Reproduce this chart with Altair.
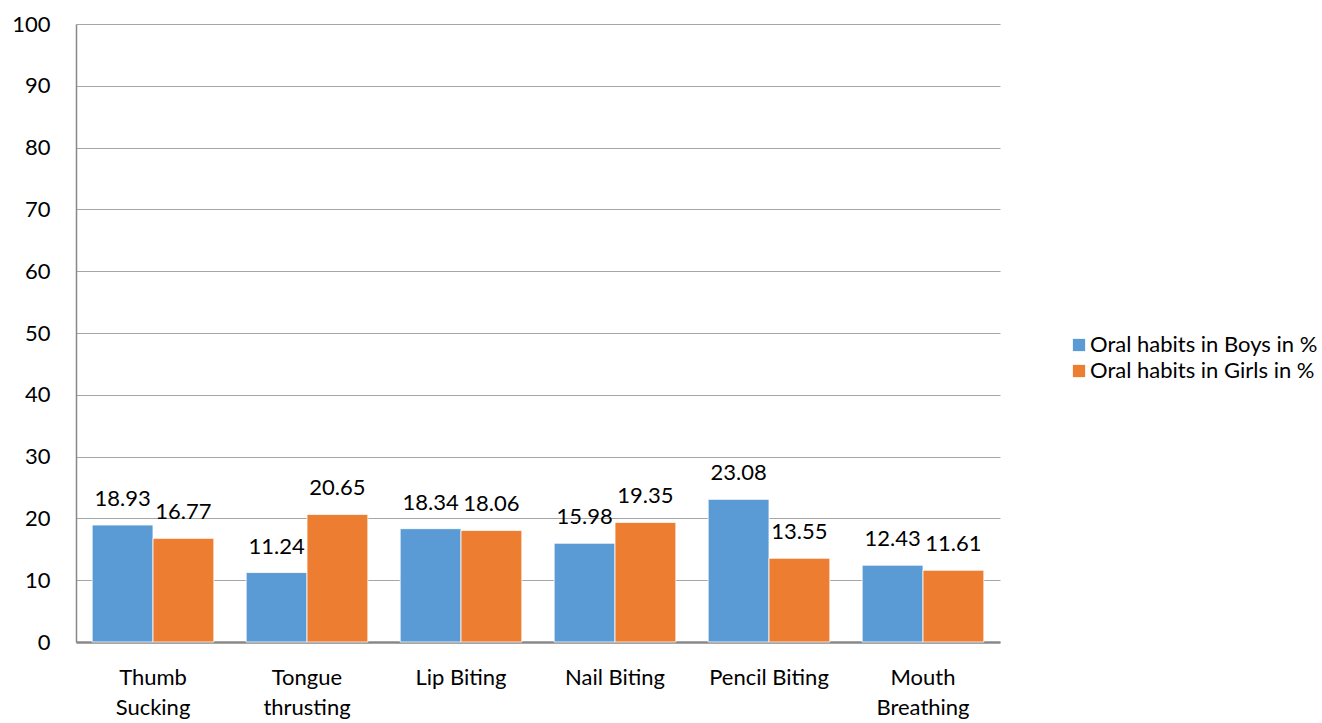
import altair as alt
import pandas as pd

categories = ["Thumb Sucking", "Tongue thrusting", "Lip Biting", "Nail Biting", "Pencil Biting", "Mouth Breathing"]
tick_labels = ["Thumb|Sucking", "Tongue|thrusting", "Lip Biting", "Nail Biting", "Pencil Biting", "Mouth|Breathing"]
boys = [18.93, 11.24, 18.34, 15.98, 23.08, 12.43]
girls = [16.77, 20.65, 18.06, 19.35, 13.55, 11.61]
series = ["Oral habits in Boys in %", "Oral habits in Girls in %"]
colors = ["#5B9BD5", "#ED7D31"]

rows = []
for c, b, g in zip(categories, boys, girls):
    rows.append({"cat": c, "series": series[0], "value": b, "label": f"{b:.2f}"})
    rows.append({"cat": c, "series": series[1], "value": g, "label": f"{g:.2f}"})
df = pd.DataFrame(rows)

label_map = "{" + ", ".join(f"'{c}': '{t}'" for c, t in zip(categories, tick_labels)) + "}"

FONT = "Lato"
FS = 22

x = alt.X("cat:N", sort=categories, title=None,
          scale=alt.Scale(paddingInner=0.21, paddingOuter=0.105),
          axis=alt.Axis(labelAngle=0, labelFontSize=FS, labelFont=FONT, labelColor="#000",
                        labelExpr=f"split({label_map}[datum.label], '|')", labelLineHeight=30,
                        labelPadding=35, ticks=False, domainColor="#888", domainWidth=2.5,
                        grid=False, labelBaseline="middle", labelLimit=0))
y = alt.Y("value:Q", title=None,
          scale=alt.Scale(domain=[0, 100]),
          axis=alt.Axis(values=list(range(0, 101, 10)), labelFontSize=FS, labelFont=FONT,
                        labelColor="#000", labelPadding=26, ticks=False,
                        domainColor="#888", domainWidth=1.5,
                        gridColor="#a6a6a6", gridWidth=1))
xo = alt.XOffset("series:N", sort=series, scale=alt.Scale(paddingInner=0, paddingOuter=0))
color = alt.Color("series:N", sort=series, scale=alt.Scale(domain=series, range=colors),
                  legend=alt.Legend(title=None, orient="none", legendX=992, legendY=310,
                                    symbolType="square", symbolSize=150, symbolStrokeWidth=0,
                                    labelFontSize=FS, labelFont=FONT, labelColor="#000",
                                    rowPadding=4, labelOffset=0, padding=0, labelLimit=0))

bars = alt.Chart(df).mark_bar(stroke="white", strokeWidth=0.8).encode(x=x, y=y, xOffset=xo, color=color)
labels = alt.Chart(df).mark_text(fontSize=FS, font=FONT, color="#000", baseline="middle", dy=-26).encode(
    x=x, y=y, xOffset=xo, text="label:N")

chart = alt.layer(bars, labels).properties(
    width=924, height=618,
    view=alt.ViewBackground(stroke="transparent", strokeWidth=0),
    autosize=alt.AutoSizeParams(type="none"),
    padding={"left": 76, "top": 24, "right": 322, "bottom": 81},
).configure(
    background="white",
    view=alt.ViewConfig(stroke="transparent", strokeWidth=0),
)

chart.save("out.html", embed_options={"renderer": "svg", "actions": False})
